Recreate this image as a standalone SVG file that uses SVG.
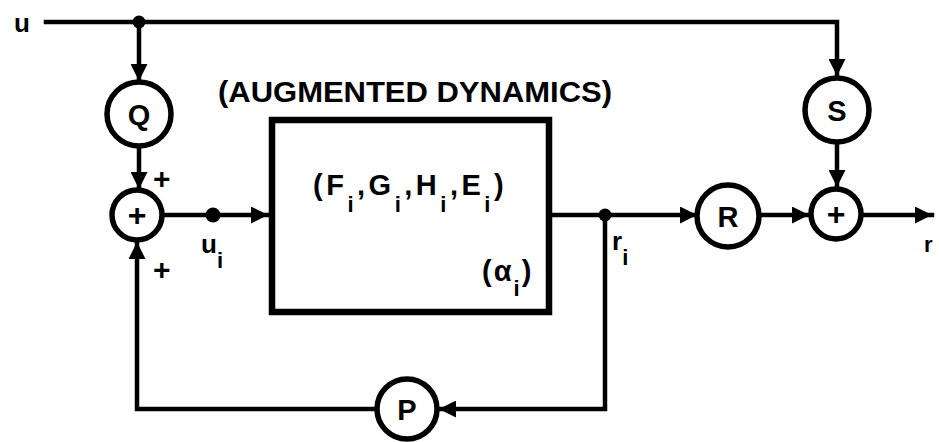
<svg xmlns="http://www.w3.org/2000/svg" width="939" height="442" viewBox="0 0 939 442">
<style>
.ln{fill:none;stroke:#000;stroke-width:4.5;stroke-linecap:square}
.cir{fill:#fff;stroke:#000;stroke-width:5.5}
.box{fill:#fff;stroke:#000;stroke-width:6.5}
.t{font-family:"Liberation Sans","DejaVu Sans",sans-serif;font-weight:bold;fill:#000}
.lbl{font-size:29px;text-anchor:middle}
.pl{font-size:32px;text-anchor:middle}
.big{font-size:29px}
.sub{font-size:22px}
</style>
<defs>
<marker id="ah" viewBox="0 0 10 10" refX="10" refY="5" markerWidth="20" markerHeight="17" markerUnits="userSpaceOnUse" orient="auto">
<path d="M0,0 L10,5 L0,10 z" fill="#000"/>
</marker>
</defs>
<rect width="939" height="442" fill="#fff"/>
<g id="connectors">
<path class="ln" d="M46,22 H837 V76" marker-end="url(#ah)"/>
<path class="ln" d="M139,22 V81" marker-end="url(#ah)"/>
<path class="ln" d="M139,147 V189" marker-end="url(#ah)"/>
<path class="ln" d="M162,215 H268" marker-end="url(#ah)"/>
<path class="ln" d="M552,215 H697" marker-end="url(#ah)"/>
<path class="ln" d="M760,215 H809" marker-end="url(#ah)"/>
<path class="ln" d="M837,143 V187" marker-end="url(#ah)"/>
<path class="ln" d="M862,215 H932" marker-end="url(#ah)"/>
<path class="ln" d="M605,215 V409 H439" marker-end="url(#ah)"/>
<path class="ln" d="M377,409 H137 V242" marker-end="url(#ah)"/>
<circle cx="139" cy="22" r="6.5" fill="#000"/>
<circle cx="213" cy="215" r="7.5" fill="#000"/>
<circle cx="605" cy="215" r="6.5" fill="#000"/>
</g>
<g id="Q"><circle class="cir" cx="139" cy="114" r="32"/><text class="t lbl" x="139" y="125">Q</text></g>
<g id="sum1"><circle class="cir" cx="137" cy="215" r="25"/><text class="t pl" x="137" y="226">+</text></g>
<g id="S"><circle class="cir" cx="837" cy="110" r="32"/><text class="t lbl" x="837" y="121">S</text></g>
<g id="R"><circle class="cir" cx="728" cy="216" r="31"/><text class="t lbl" x="728" y="227">R</text></g>
<g id="sum2"><circle class="cir" cx="836" cy="214" r="25"/><text class="t pl" x="836" y="225">+</text></g>
<g id="P"><circle class="cir" cx="407" cy="409" r="30"/><text class="t lbl" x="407" y="420">P</text></g>
<g id="dynamics">
<rect class="box" x="272" y="120" width="277" height="192"/>
<text class="t big" x="218" y="102" textLength="394" lengthAdjust="spacingAndGlyphs">(AUGMENTED DYNAMICS)</text>
<text class="t big" x="313" y="195" style="letter-spacing:3.5px">(F<tspan class="sub" dy="17">i</tspan><tspan dy="-17">,G</tspan><tspan class="sub" dy="17">i</tspan><tspan dy="-17">,H</tspan><tspan class="sub" dy="17">i</tspan><tspan dy="-17">,E</tspan><tspan class="sub" dy="17">i</tspan><tspan dy="-17">)</tspan></text>
<text class="t big" x="482" y="281" style="letter-spacing:2px">(α<tspan class="sub" dy="15">i</tspan><tspan dy="-15">)</tspan></text>
</g>
<g id="labels">
<text class="t" style="font-size:26px" x="14" y="32">u</text>
<text class="t" style="font-size:30px" x="153" y="189">+</text>
<text class="t" style="font-size:30px" x="153" y="280">+</text>
<text class="t" style="font-size:26px" x="201" y="253">u<tspan class="sub" dy="15">i</tspan></text>
<text class="t" style="font-size:26px" x="612" y="250">r<tspan class="sub" dy="15">i</tspan></text>
<text class="t" style="font-size:22px" x="924" y="252">r</text>
</g>
</svg>
